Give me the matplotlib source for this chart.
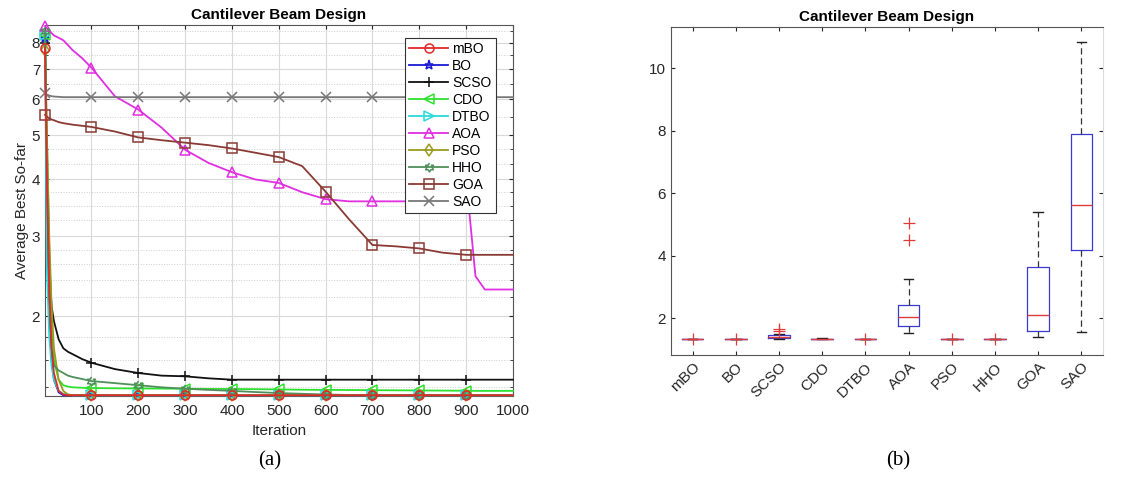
import numpy as np
import matplotlib.pyplot as plt
from matplotlib.ticker import FixedLocator, NullFormatter

plt.rcParams['font.family'] = ['Liberation Sans', 'DejaVu Sans']

# iteraciones donde se leyeron los valores de las curvas
iters = [1, 5, 10, 15, 20, 30, 40, 50, 60, 80, 100, 150, 200, 250, 300, 350, 400,
         450, 500, 550, 600, 650, 700, 750, 800, 850, 900, 905, 920, 940, 1000]

mbo = [7.8, 4.0, 2.3, 1.7, 1.5, 1.37, 1.345, 1.34, 1.34, 1.34, 1.34, 1.34, 1.34, 1.34, 1.34, 1.34,
       1.34, 1.34, 1.34, 1.34, 1.34, 1.34, 1.34, 1.34, 1.34, 1.34, 1.34, 1.34, 1.34, 1.34, 1.34]
bo = [8.2, 3.5, 2.0, 1.6, 1.45, 1.36, 1.34, 1.34, 1.34, 1.34, 1.34, 1.34, 1.34, 1.34, 1.34, 1.34,
      1.34, 1.34, 1.34, 1.34, 1.34, 1.34, 1.34, 1.34, 1.34, 1.34, 1.34, 1.34, 1.34, 1.34, 1.34]
scso = [8.0, 4.5, 2.6, 2.1, 1.95, 1.78, 1.70, 1.67, 1.65, 1.61, 1.58, 1.53, 1.50, 1.48, 1.475, 1.46,
        1.45, 1.45, 1.45, 1.45, 1.45, 1.45, 1.45, 1.45, 1.45, 1.45, 1.45, 1.45, 1.45, 1.45, 1.45]
cdo = [8.3, 5.0, 2.8, 2.0, 1.6, 1.45, 1.41, 1.40, 1.395, 1.392, 1.39, 1.388, 1.387, 1.386, 1.385, 1.384,
       1.383, 1.382, 1.38, 1.378, 1.377, 1.376, 1.375, 1.374, 1.373, 1.372, 1.371, 1.371, 1.37, 1.37, 1.37]
dtbo = [8.3, 2.5, 1.8, 1.55, 1.45, 1.37, 1.35, 1.345, 1.34, 1.34, 1.34, 1.34, 1.34, 1.34, 1.34, 1.34,
        1.34, 1.34, 1.34, 1.34, 1.34, 1.34, 1.34, 1.34, 1.34, 1.34, 1.34, 1.34, 1.34, 1.34, 1.34]
aoa = [8.7, 8.6, 8.5, 8.4, 8.3, 8.2, 8.1, 7.9, 7.7, 7.4, 7.05, 6.1, 5.7, 5.2, 4.65, 4.35,
       4.15, 4.0, 3.93, 3.75, 3.62, 3.58, 3.58, 3.58, 3.58, 3.58, 3.58, 3.55, 2.45, 2.29, 2.29]
pso = [7.7, 5.0, 3.0, 2.1, 1.7, 1.45, 1.37, 1.345, 1.34, 1.34, 1.34, 1.34, 1.34, 1.34, 1.34, 1.34,
       1.34, 1.34, 1.34, 1.34, 1.34, 1.34, 1.34, 1.34, 1.34, 1.34, 1.34, 1.34, 1.34, 1.34, 1.34]
hho = [8.5, 4.0, 2.2, 1.7, 1.56, 1.52, 1.50, 1.48, 1.47, 1.455, 1.44, 1.425, 1.41, 1.395, 1.385, 1.377,
       1.37, 1.362, 1.355, 1.35, 1.345, 1.342, 1.34, 1.34, 1.34, 1.34, 1.34, 1.34, 1.34, 1.34, 1.34]
goa = [5.55, 5.5, 5.45, 5.42, 5.4, 5.35, 5.32, 5.3, 5.28, 5.25, 5.22, 5.1, 4.95, 4.88, 4.82, 4.76,
       4.68, 4.58, 4.48, 4.28, 3.76, 3.27, 2.87, 2.85, 2.82, 2.76, 2.73, 2.73, 2.73, 2.73, 2.73]
sao = [6.2, 6.15, 6.12, 6.1, 6.09, 6.08, 6.07, 6.07, 6.07, 6.07, 6.07, 6.07, 6.07, 6.07, 6.07, 6.07,
       6.07, 6.07, 6.07, 6.07, 6.07, 6.07, 6.07, 6.07, 6.07, 6.07, 6.07, 6.07, 6.07, 6.07, 6.07]

nombres = ['mBO', 'BO', 'SCSO', 'CDO', 'DTBO', 'AOA', 'PSO', 'HHO', 'GOA', 'SAO']
curvas = [mbo, bo, scso, cdo, dtbo, aoa, pso, hho, goa, sao]
colores = ['#e02a2a', '#1a1ad6', '#111111', '#2ee02e', '#2adada', '#e02ee0',
           '#9c9a1c', '#4f8f5a', '#8a3a34', '#777777']

# estrella de seis puntas (hexagrama de MATLAB)
ang = np.deg2rad(90 + 30 * np.arange(12))
rad = np.where(np.arange(12) % 2 == 0, 1.0, 0.577)
hexagrama = list(zip(rad * np.cos(ang), rad * np.sin(ang)))

marcas = ['o', '*', '+', '<', '>', '^', 'd', hexagrama, 's', 'x']
iter_marcas = [1, 100, 200, 300, 400, 500, 600, 700, 800, 900]

med = [1.34, 1.34, 1.42, 1.35, 1.34, 2.05, 1.34, 1.34, 2.10, 5.64]
q1 = [1.34, 1.34, 1.37, 1.345, 1.34, 1.75, 1.34, 1.34, 1.60, 4.19]
q3 = [1.34, 1.34, 1.475, 1.355, 1.34, 2.43, 1.34, 1.34, 3.65, 7.90]
bigote_inf = [1.34, 1.34, 1.34, 1.34, 1.34, 1.54, 1.34, 1.34, 1.40, 1.55]
bigote_sup = [1.34, 1.34, 1.50, 1.36, 1.34, 3.25, 1.34, 1.34, 5.41, 10.85]
atipicos = [[1.34], [1.34], [1.60, 1.66], [], [1.34], [4.5, 5.04], [1.34], [1.34], [], []]

gris = '#262626'
fig = plt.figure(figsize=(11.46, 4.79), dpi=100)

# ---------- (a) curvas de convergencia ----------
ax = fig.add_axes([0.0393, 0.1733, 0.4083, 0.7745])
idx = [iters.index(i) for i in iter_marcas]
for nom, y, c, m in zip(nombres, curvas, colores, marcas):
    z = 5 if nom == 'mBO' else 3
    ax.plot(iters, y, color=c, lw=1.3, marker=m, markevery=idx, markersize=6.5,
            markerfacecolor='none', markeredgewidth=1.1, label=nom, clip_on=False,
            zorder=z)
ax.set_yscale('log')
ax.set_xlim(1, 1000)
ax.set_ylim(1.335, 8.75)
ax.set_xticks(range(100, 1001, 100))
ax.yaxis.set_major_locator(FixedLocator([2, 3, 4, 5, 6, 7, 8]))
ax.yaxis.set_major_formatter(plt.FuncFormatter(lambda v, p: f'{v:g}'))
ax.yaxis.set_minor_locator(FixedLocator([1.4, 1.6, 1.8, 2.2, 2.4, 2.6, 2.8, 3.25, 3.5, 3.75,
                                         4.33, 4.67, 5.5, 6.5, 7.5, 8.5]))
ax.yaxis.set_minor_formatter(NullFormatter())
ax.grid(True, which='major', color='#d9d9d9', lw=0.8)
ax.grid(True, which='minor', axis='y', color='#cfcfcf', lw=0.7, ls=':')
ax.tick_params(which='both', direction='in', top=True, right=True, colors=gris,
               labelsize=11, length=3)
ax.tick_params(axis='x', pad=6)
ax.tick_params(which='minor', length=2)
for s in ax.spines.values():
    s.set_color('#555555')
ax.set_title('Cantilever Beam Design', fontsize=11, fontweight='bold', pad=4)
ax.set_xlabel('Iteration', fontsize=11, color=gris, labelpad=4)
ax.set_ylabel('Average Best So-far', fontsize=11, color=gris, labelpad=2)
leg = ax.legend(loc='upper right', bbox_to_anchor=(0.978, 0.985), fontsize=10,
                fancybox=False, framealpha=1, edgecolor='#333333',
                handlelength=2.8, borderpad=0.3, labelspacing=0.22, handletextpad=0.3)
leg.get_frame().set_linewidth(0.8)
leg.set_zorder(10)

# ---------- (b) diagramas de caja ----------
bx = fig.add_axes([0.5855, 0.2589, 0.3770, 0.6847])
stats = []
for i, nom in enumerate(nombres):
    stats.append(dict(label=nom, med=med[i], q1=q1[i], q3=q3[i],
                      whislo=bigote_inf[i], whishi=bigote_sup[i], fliers=atipicos[i]))
bx.bxp(stats, positions=range(1, 11), widths=0.5, capwidths=0.22,
       boxprops=dict(color='#3a3ad0', lw=0.9),
       medianprops=dict(color='#e03a3a', lw=1.0),
       whiskerprops=dict(color='#333333', lw=0.9, ls=(0, (5, 3))),
       capprops=dict(color='#222222', lw=1.0),
       flierprops=dict(marker='+', markeredgecolor='#e03a3a', markersize=9, mew=0.9))
bx.set_xlim(0.5, 10.5)
bx.set_ylim(0.83, 11.32)
bx.set_yticks([2, 4, 6, 8, 10])
bx.set_xticklabels(nombres, rotation=45, ha='right', rotation_mode='anchor')
bx.tick_params(direction='in', top=True, right=True, colors=gris, labelsize=11, length=3)
for s in bx.spines.values():
    s.set_color('#555555')
bx.spines['right'].set_color('#dddddd')
bx.set_title('Cantilever Beam Design', fontsize=11, fontweight='bold', pad=4)

fig.text(0.2356, 0.028, '(a)', fontsize=15, family=['Liberation Serif', 'DejaVu Serif'],
         ha='center')
fig.text(0.7836, 0.028, '(b)', fontsize=15, family=['Liberation Serif', 'DejaVu Serif'],
         ha='center')

fig.savefig('out.png', dpi=100)
